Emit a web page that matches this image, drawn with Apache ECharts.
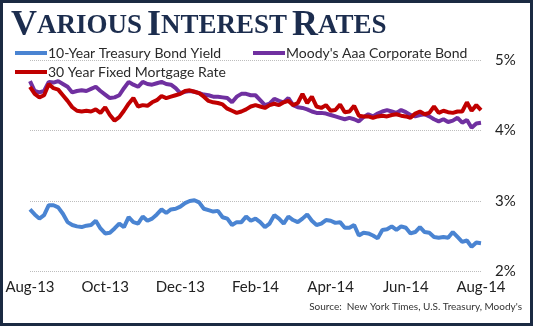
<!DOCTYPE html>
<html>
<head>
<meta charset="utf-8">
<script src="https://cdn.jsdelivr.net/npm/echarts@6/dist/echarts.min.js"></script>
<style>
html,body{margin:0;padding:0;background:#fff;}
#c{width:533px;height:326px;}
</style>
</head>
<body>
<div id="c"></div>
<script>
var tickLabels = ['Aug-13','Oct-13','Dec-13','Feb-14','Apr-14','Jun-14','Aug-14'];
var yTicks = [2,3,4,5];
var seriesNames = ['10-Year Treasury Bond Yield', "Moody's Aaa Corporate Bond", '30 Year Fixed Mortgage Rate'];

var treasury = [2.88,2.81,2.75,2.80,2.94,2.94,2.91,2.82,2.70,2.66,2.64,2.63,2.65,2.66,2.72,2.61,
2.54,2.55,2.61,2.68,2.63,2.77,2.70,2.68,2.78,2.72,2.75,2.81,2.88,2.83,2.88,2.89,
2.92,2.97,3.00,3.01,2.98,2.89,2.87,2.85,2.86,2.77,2.75,2.66,2.70,2.70,2.78,2.72,
2.75,2.70,2.63,2.68,2.80,2.75,2.68,2.78,2.73,2.70,2.75,2.81,2.72,2.66,2.68,2.73,
2.72,2.69,2.70,2.62,2.62,2.66,2.51,2.55,2.54,2.51,2.47,2.59,2.60,2.64,2.59,2.64,
2.62,2.54,2.56,2.63,2.56,2.55,2.49,2.48,2.49,2.48,2.56,2.49,2.42,2.44,2.35,2.41,2.40];

var moodys = [4.70,4.56,4.54,4.56,4.69,4.68,4.70,4.66,4.62,4.54,4.56,4.57,4.56,4.59,4.62,4.56,
4.51,4.46,4.47,4.50,4.60,4.69,4.65,4.62,4.69,4.66,4.65,4.67,4.69,4.66,4.65,4.60,
4.53,4.55,4.56,4.55,4.53,4.51,4.50,4.48,4.48,4.47,4.46,4.40,4.48,4.52,4.52,4.50,
4.50,4.43,4.36,4.38,4.45,4.42,4.40,4.46,4.36,4.33,4.32,4.30,4.27,4.25,4.25,4.24,
4.22,4.20,4.18,4.16,4.18,4.16,4.13,4.19,4.23,4.20,4.24,4.27,4.29,4.27,4.25,4.29,
4.26,4.22,4.20,4.22,4.23,4.20,4.16,4.13,4.16,4.12,4.14,4.18,4.11,4.15,4.04,4.10,4.11];

var mortgage = [4.62,4.52,4.47,4.50,4.66,4.60,4.58,4.50,4.42,4.33,4.28,4.27,4.28,4.27,4.30,4.25,
4.33,4.22,4.14,4.19,4.28,4.38,4.46,4.34,4.36,4.35,4.40,4.43,4.49,4.46,4.48,4.50,
4.52,4.56,4.57,4.55,4.53,4.48,4.42,4.40,4.39,4.37,4.31,4.28,4.25,4.27,4.30,4.34,
4.36,4.34,4.32,4.36,4.38,4.36,4.40,4.42,4.36,4.39,4.52,4.39,4.48,4.34,4.32,4.36,
4.28,4.29,4.37,4.26,4.27,4.35,4.21,4.20,4.20,4.18,4.20,4.21,4.20,4.22,4.23,4.21,
4.20,4.18,4.24,4.27,4.23,4.25,4.34,4.25,4.28,4.26,4.25,4.27,4.27,4.40,4.28,4.36,4.29];

var step = (treasury.length - 1) / (tickLabels.length - 1);
var categories = treasury.map(function(_, i){ return (i % step === 0) ? tickLabels[i / step] : ''; });

var colors = ['#4a84d2', '#7030a0', '#c00000'];
var font = 'Lato, "Open Sans", sans-serif';

var chart = echarts.init(document.getElementById('c'), null, {renderer:'canvas'});
function legendCfg(name, left, top){
  return {
    data:[name], left:left, top:top, icon:'rect', itemWidth:32, itemHeight:4, padding:0,
    textStyle:{color:'#2a2a2a', fontSize:14, fontFamily:font, padding:[0,0,0,-4]}
  };
}
chart.setOption({
  animation:false,
  backgroundColor:'#fff',
  title:{
    text:'{a|V}{b|ARIOUS} {a|I}{b|NTEREST} {a|R}{b|ATES}',
    left:11, top:8, padding:0,
    textStyle:{
      rich:{
        a:{fontFamily:'"Liberation Serif", serif', fontWeight:'bold', fontSize:36, color:'#1c2d4e'},
        b:{fontFamily:'"Liberation Serif", serif', fontWeight:'bold', fontSize:27, color:'#1c2d4e'}
      }
    }
  },
  legend:[
    legendCfg(seriesNames[0], 15, 46),
    legendCfg(seriesNames[1], 253, 46),
    legendCfg(seriesNames[2], 15, 65)
  ],
  grid:{left:30, right:52, top:60, bottom:54.5},
  xAxis:{
    type:'category', data:categories, boundaryGap:false,
    axisLine:{show:false}, axisTick:{show:false},
    axisLabel:{interval:step-1, color:'#222', fontSize:15, fontFamily:font, margin:8},
    splitLine:{show:false}
  },
  yAxis:{
    type:'value', position:'right', min:yTicks[0], max:yTicks[yTicks.length-1], interval:1,
    axisLine:{show:false}, axisTick:{show:false},
    axisLabel:{formatter:'{value}%', color:'#222', fontSize:15, fontFamily:font, margin:14},
    splitLine:{lineStyle:{color:'#bdbdbd', type:[1,1], width:1}}
  },
  series:[
    {name:seriesNames[0], type:'line', data:treasury, showSymbol:false, symbol:'none', lineStyle:{width:4, color:colors[0]}, itemStyle:{color:colors[0]}},
    {name:seriesNames[1], type:'line', data:moodys, showSymbol:false, symbol:'none', lineStyle:{width:4, color:colors[1]}, itemStyle:{color:colors[1]}},
    {name:seriesNames[2], type:'line', data:mortgage, showSymbol:false, symbol:'none', lineStyle:{width:4, color:colors[2]}, itemStyle:{color:colors[2]}}
  ],
  graphic:[
    {type:'text', right:11, top:302, style:{text:"Source:  New York Times, U.S. Treasury, Moody's", fill:'#333', fontSize:10, fontFamily:font}},
    {type:'rect', z:100, shape:{x:1.5, y:1.5, width:530, height:323}, style:{fill:null, stroke:'#1b2a42', lineWidth:3}}
  ]
});
</script>
</body>
</html>
